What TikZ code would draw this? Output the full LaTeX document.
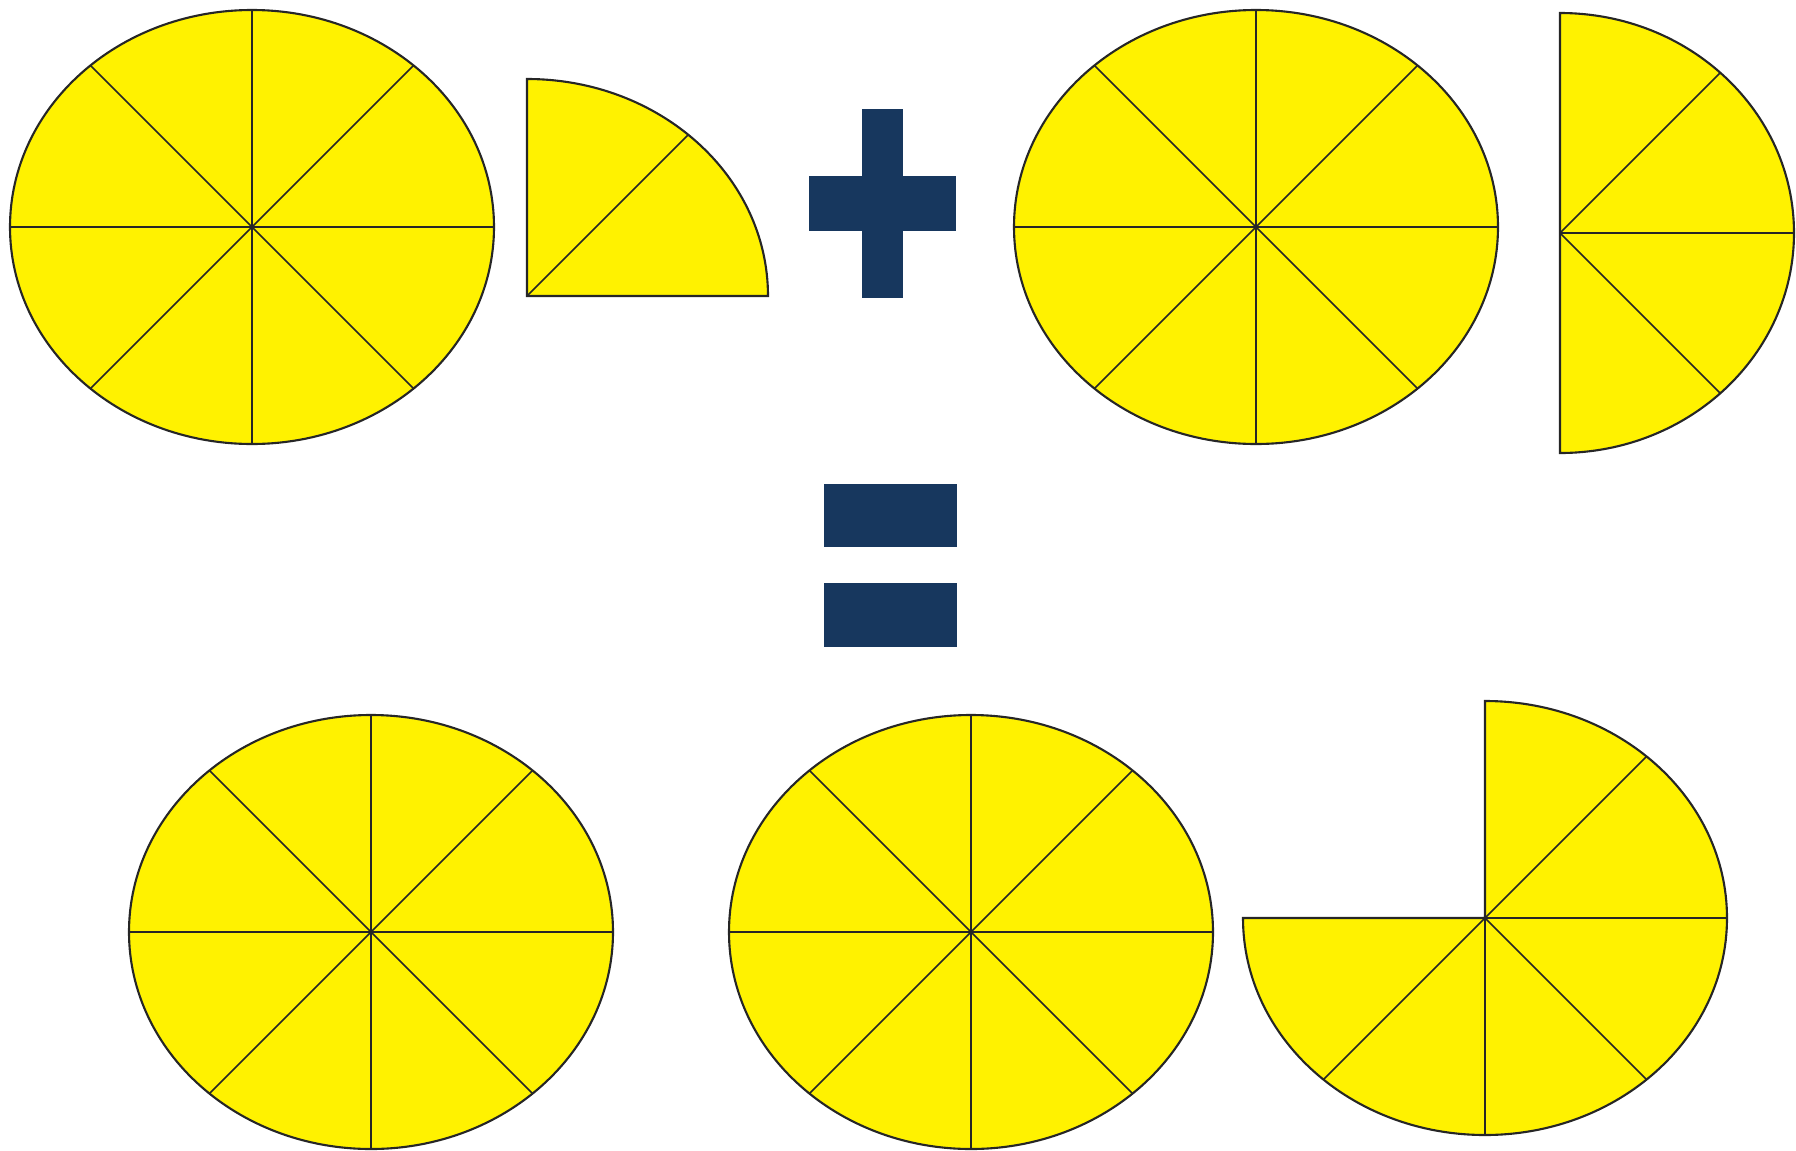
\documentclass[tikz,border=0pt]{standalone}
\definecolor{pieyellow}{RGB}{255,242,0}
\definecolor{signblue}{RGB}{23,55,94}
\tikzset{
  slice/.style={fill=pieyellow, draw=black!85, line width=0.6pt},
  spoke/.style={draw=black!85, line width=0.45pt},
  sign/.style={fill=signblue},
}
\begin{document}
\begin{tikzpicture}[x=0.01cm, y=-0.01cm]
    \useasboundingbox (0,0) rectangle (1796,1151);
    % whole pies
    \foreach \n/\px/\py in {wa/252/227, wb/1256/227, wc/371/932, wd/971/932} {
      \coordinate (\n) at (\px,\py);
      \path[slice] (\n) ellipse [x radius=242, y radius=217];
      \foreach \dx/\dy in {242/0, 161.6/161.6, 0/217, -161.6/161.6, -242/0, -161.6/-161.6, 0/-217, 161.6/-161.6}
        \draw[spoke] (\n) -- ++(\dx,\dy);
    }
    % quarter
    \coordinate (q) at (527,296);
    \path[slice] (q) -- ++(0,-217) arc[start angle=-90, end angle=0, x radius=241, y radius=217] -- cycle;
    \draw[spoke] (q) -- ++(161.6,-161.6);
    % half
    \coordinate (h) at (1560,233);
    \path[slice] (h) -- ++(0,-220) arc[start angle=-90, end angle=90, x radius=234, y radius=220] -- cycle;
    \foreach \dx/\dy in {234/0, 160.3/-160.3, 160.3/160.3}
      \draw[spoke] (h) -- ++(\dx,\dy);
    % three quarters
    \coordinate (t) at (1485,918);
    \path[slice] (t) -- ++(0,-217) arc[start angle=-90, end angle=180, x radius=242, y radius=217] -- cycle;
    \foreach \dx/\dy in {161.6/-161.6, 242/0, 161.6/161.6, 0/217, -161.6/161.6}
      \draw[spoke] (t) -- ++(\dx,\dy);
    % plus and equals
    \fill[sign] (862,109) rectangle (903,298);
    \fill[sign] (809,176) rectangle (956,231);
    \fill[sign] (824,484) rectangle (957,547);
    \fill[sign] (824,583) rectangle (957,647);
\end{tikzpicture}
\end{document}
